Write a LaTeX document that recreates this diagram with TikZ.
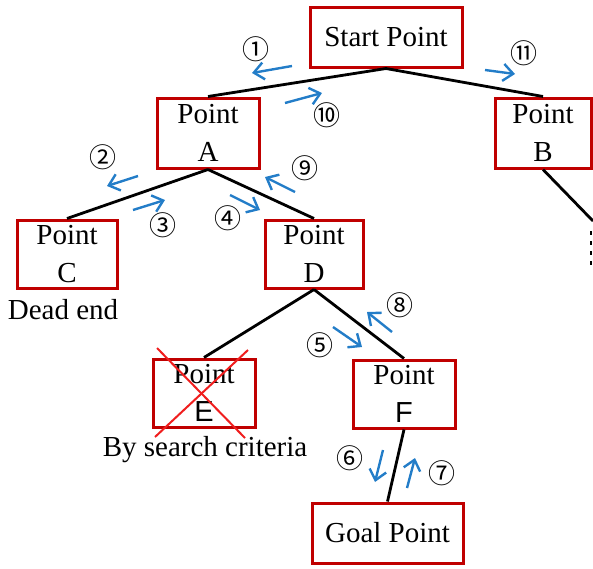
\documentclass[tikz,border=0pt]{standalone}
\usepackage{fontspec}
\setmainfont{Liberation Serif}
\setsansfont{Liberation Sans}
\newfontfamily\cjk{Noto Sans CJK JP}
\usetikzlibrary{arrows.meta}
\definecolor{boxred}{RGB}{192,0,0}
\definecolor{crossred}{RGB}{240,30,30}
\definecolor{stepblue}{RGB}{35,125,200}
\tikzset{
  pointbox/.style={draw=boxred, line width=3pt, fill=white, rectangle,
    inner sep=0pt, align=center,
    font=\fontsize{29}{38}\selectfont},
  treeedge/.style={draw=black, line width=2.8pt},
  steparrow/.style={draw=stepblue, line width=2.4pt,
    -{Straight Barb[length=10pt,width=17pt,line width=2.4pt]}},
  stepnum/.style={inner sep=0pt, font=\cjk\fontsize{27}{27}\selectfont},
  caption/.style={inner sep=0pt, font=\fontsize{29}{29}\selectfont},
}
\begin{document}
\begin{tikzpicture}[x=1pt,y=-1pt]
\useasboundingbox (0,0) rectangle (593,568);

% search tree nodes
\node[pointbox, minimum width=152pt, minimum height=60pt] (start) at (386,37) {Start Point};
\node[pointbox, minimum width=102pt, minimum height=70pt] (A) at (208,133) {Point\\A};
\node[pointbox, minimum width=96pt, minimum height=70pt] (B) at (543,133) {Point\\B};
\node[pointbox, minimum width=100pt, minimum height=68pt] (C) at (67,254) {Point\\C};
\node[pointbox, minimum width=98pt, minimum height=68pt] (D) at (314,254) {Point\\D};
\node[pointbox, minimum width=102pt, minimum height=68pt] (E) at (204,393) {Point\\\sffamily E};
\node[pointbox, minimum width=102pt, minimum height=68pt] (F) at (404,394) {Point\\\sffamily F};
\node[pointbox, minimum width=151pt, minimum height=60pt] (goal) at (387.5,533) {Goal Point};

% continuation below B
\coordinate (bcont) at (593,221);
\coordinate (dtop) at (591,231);
\coordinate (dbot) at (591,270);

% tree edges
\draw[treeedge] (start.south) -- (A.north);
\draw[treeedge] (start.south) -- (B.north);
\draw[treeedge] (A.south) -- (C.north);
\draw[treeedge] (A.south) -- (D.north);
\draw[treeedge] (D.south) -- (E.north);
\draw[treeedge] (D.south) -- (F.north);
\draw[treeedge] (F.south) -- (goal.north);
\draw[treeedge] (B.south) -- (bcont);
\draw[black, line width=2.8pt, dash pattern=on 4pt off 6pt] (dtop) -- (dbot);

% E is excluded
\draw[crossred, line width=2pt] (157,348) -- (245,438);
\draw[crossred, line width=2pt] (248,350) -- (155,437);

% captions
\node[caption] (deadend) at (63,310) {Dead end};
\node[caption] (criteria) at (205,450) {By search criteria};

% search order arrows
\coordinate (s1a) at (292,66);  \coordinate (s1b) at (252,73);
\coordinate (s2a) at (138,176); \coordinate (s2b) at (107,186);
\coordinate (s3a) at (133,210); \coordinate (s3b) at (165,200);
\coordinate (s4a) at (230,195); \coordinate (s4b) at (260,210);
\coordinate (s5a) at (333,327); \coordinate (s5b) at (362,347);
\coordinate (s6a) at (383,450); \coordinate (s6b) at (375,482);
\coordinate (s7a) at (407,488); \coordinate (s7b) at (415,458);
\coordinate (s8a) at (392,332); \coordinate (s8b) at (367,312);
\coordinate (s9a) at (295,192); \coordinate (s9b) at (265,177);
\coordinate (s10a) at (285,103); \coordinate (s10b) at (322,93);
\coordinate (s11a) at (485,70);  \coordinate (s11b) at (515,74);
\foreach \k in {1,...,11} \draw[steparrow] (s\k a) -- (s\k b);

% step numbers
\node[stepnum] (n1) at (256,49) {①};
\node[stepnum] (n2) at (103,157) {②};
\node[stepnum] (n3) at (163,225) {③};
\node[stepnum] (n4) at (228,218) {④};
\node[stepnum] (n5) at (320,345) {⑤};
\node[stepnum] (n6) at (350,458) {⑥};
\node[stepnum] (n7) at (442,473) {⑦};
\node[stepnum] (n8) at (400,305) {⑧};
\node[stepnum] (n9) at (305,168) {⑨};
\node[stepnum] (n10) at (327,115) {⑩};
\node[stepnum] (n11) at (524,53) {⑪};
\end{tikzpicture}
\end{document}
